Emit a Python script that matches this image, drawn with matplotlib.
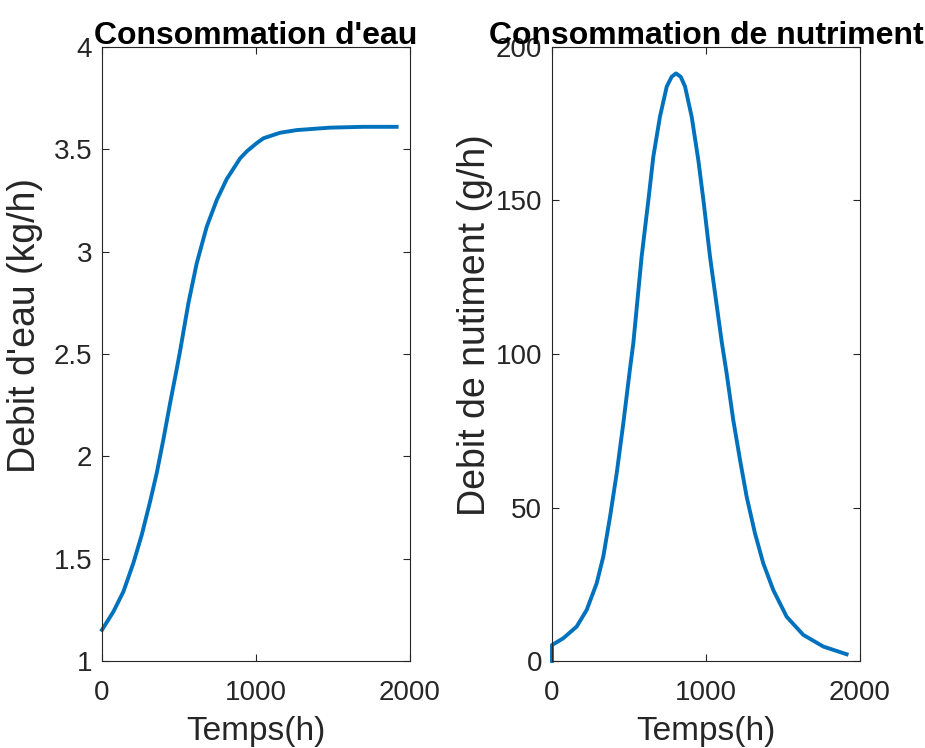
import matplotlib.pyplot as plt

# Water consumption (left panel)
t_eau = [0, 74, 139, 203, 258, 312, 355, 398, 442, 481, 506, 561, 615, 680,
         745, 810, 896, 940, 1004, 1048, 1156, 1264, 1481, 1697, 1913]
debit_eau = [1.152, 1.241, 1.339, 1.477, 1.616, 1.778, 1.917, 2.08, 2.259,
             2.41, 2.51, 2.748, 2.943, 3.122, 3.252, 3.355, 3.455, 3.49,
             3.53, 3.554, 3.581, 3.594, 3.606, 3.61, 3.61]

# Nutrient consumption (right panel)
t_nut = [0, 0, 73, 160, 225, 290, 333, 377, 420, 463, 506, 528, 582, 626,
         658, 701, 745, 777, 805, 836, 864, 907, 950, 983, 1026, 1102, 1134,
         1177, 1221, 1264, 1318, 1372, 1437, 1524, 1632, 1762, 1913]
debit_nut = [0, 5.2, 7.4, 11.2, 16.6, 25.3, 34, 47, 61.1, 77.4, 95, 103.5,
             131.7, 150.2, 164.3, 177.3, 187.1, 190.3, 191.4, 190.3, 187.1,
             177.3, 163.2, 150.2, 131.7, 104, 93.7, 78.5, 65.5, 53.5, 41.6,
             31.8, 23.1, 14.4, 8.5, 4.7, 2.2]

xticks = [0, 1000, 2000]

plt.rcParams['font.family'] = ['Liberation Sans', 'DejaVu Sans']
blue = '#0072BD'
grey = '#262626'

fig = plt.figure(figsize=(9.25, 7.48), dpi=100)
W, H = 925, 748


def make_axes(left_px):
    return fig.add_axes([left_px / W, (H - 661) / H, 308 / W, 614 / H])


def style(ax):
    for s in ax.spines.values():
        s.set_color(grey)
        s.set_linewidth(0.8)
    ax.tick_params(direction='in', length=5, width=0.8, colors=grey,
                   labelsize=20, top=True, right=True, pad=7)
    ax.tick_params(axis='x', pad=14)


ax1 = make_axes(102)
ax1.plot(t_eau, debit_eau, color=blue, lw=2.8, solid_joinstyle='round',
         clip_on=False)
ax1.set_xlim(0, 2000)
ax1.set_ylim(1, 4)
ax1.set_xticks(xticks)
ax1.set_yticks([1, 1.5, 2, 2.5, 3, 3.5, 4])
ax1.set_yticklabels(['1', '1.5', '2', '2.5', '3', '3.5', '4'])
style(ax1)
ax1.set_xlabel('Temps(h)', fontsize=24, color=grey, labelpad=7)
ax1.set_ylabel("Debit d'eau (kg/h)", fontsize=27, color=grey)
ax1.yaxis.set_label_coords(-0.19, 0.547)
ax1.set_title("Consommation d'eau", fontsize=23, fontweight='bold', pad=2)

ax2 = make_axes(552)
ax2.plot(t_nut, debit_nut, color=blue, lw=2.8, solid_joinstyle='round',
         clip_on=False)
ax2.set_xlim(0, 2000)
ax2.set_ylim(0, 200)
ax2.set_xticks(xticks)
ax2.set_yticks([0, 50, 100, 150, 200])
style(ax2)
ax2.set_xlabel('Temps(h)', fontsize=24, color=grey, labelpad=7)
ax2.set_ylabel('Debit de nutiment (g/h)', fontsize=27, color=grey)
ax2.yaxis.set_label_coords(-0.19, 0.547)
ax2.set_title('Consommation de nutriment', fontsize=23, fontweight='bold', pad=2)

fig.savefig('out.png', dpi=100)
